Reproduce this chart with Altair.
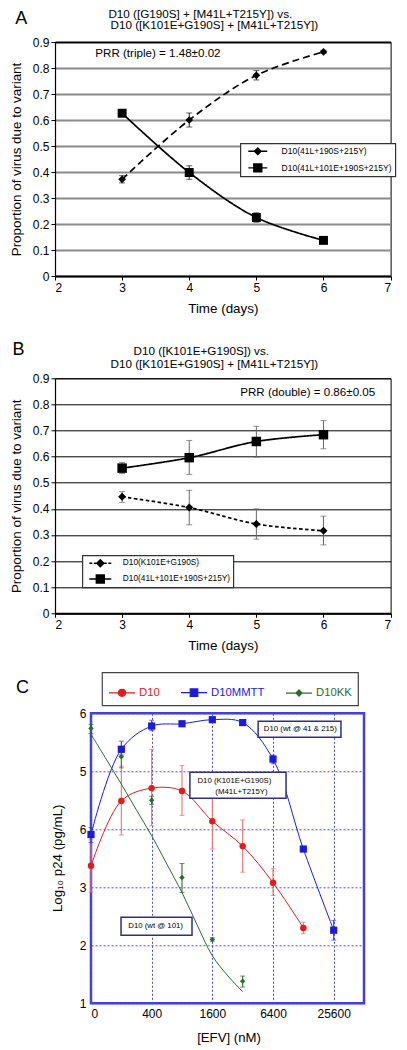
import json
import altair as alt
import pandas as pd

FONT = "Liberation Sans"

# ================= Panel A data =================
a_days = [3, 4, 5, 6]
a_series = ["D10(41L+190S+215Y)", "D10(41L+101E+190S+215Y)"]
a_diamond = [0.372, 0.600, 0.772, 0.862]
a_diamond_err = [0.014, 0.027, 0.018, 0.006]
a_square = [0.626, 0.398, 0.225, 0.137]
a_square_err = [0.012, 0.026, 0.018, 0.006]
a_heading = ["D10 ([G190S] + [M41L+T215Y]) vs.", "D10 ([K101E+G190S] + [M41L+T215Y])"]
a_note = "PRR (triple) = 1.48±0.02"

# ================= Panel B data =================
b_days = [3, 4, 5, 6]
b_series = ["D10(K101E+G190S)", "D10(41L+101E+190S+215Y)"]
b_diamond = [0.446, 0.405, 0.342, 0.316]
b_diamond_lo = [0.425, 0.339, 0.284, 0.262]
b_diamond_hi = [0.466, 0.471, 0.400, 0.372]
b_square = [0.556, 0.596, 0.658, 0.684]
b_square_lo = [0.535, 0.532, 0.598, 0.630]
b_square_hi = [0.578, 0.662, 0.716, 0.738]
b_heading = ["D10 ([K101E+G190S]) vs.", "D10 ([K101E+G190S] + [M41L+T215Y])"]
b_note = "PRR (double) = 0.86±0.05"

time_ticks = [2, 3, 4, 5, 6, 7]
prop_ticks = [0, 0.1, 0.2, 0.3, 0.4, 0.5, 0.6, 0.7, 0.8, 0.9]

# ================= Panel C data =================
c_series = ["D10", "D10MMTT", "D10KK"]
c_efv_labels = ["0", "200", "400", "800", "1600", "3200", "6400", "12800", "25600"]
c_d10 = [3.37, 4.49, 4.71, 4.66, 4.14, 3.71, 3.08, 2.30]
c_d10_lo = [2.92, 3.90, 4.06, 4.24, 3.66, 3.26, 2.86, 2.20]
c_d10_hi = [3.82, 5.09, 5.38, 5.10, 4.62, 4.16, 3.32, 2.40]
c_mmtt = [3.91, 5.38, 5.78, 5.82, 5.89, 5.84, 5.21, 3.66, 2.26]
c_mmtt_lo = [3.77, 5.28, 5.70, 5.79, 5.86, 5.81, 5.13, 3.62, 2.09]
c_mmtt_hi = [4.03, 5.52, 5.88, 5.85, 5.92, 5.87, 5.28, 3.70, 2.43]
c_kk = [5.74, 5.25, 4.50, 3.17, 2.10, 1.38]
c_kk_lo = [5.65, 5.06, 4.43, 2.91, 2.07, 1.28]
c_kk_hi = [5.81, 5.33, 4.57, 3.41, 2.13, 1.47]
c_kk_fit_pos = [0, 0.5, 1, 1.5, 2, 2.5, 3, 3.5, 4, 4.5, 5]
c_kk_fit = [5.64, 5.21, 4.78, 4.33, 3.89, 3.40, 2.91, 2.35, 1.82, 1.48, 1.20]
c_x_ticks = [0, 2, 4, 6, 8]
c_y_ticks = [1, 2, 3, 4, 5, 6]
c_y_tick_labels = ["1", "2", "3", "6", "5", "6"]
c_x_title = "[EFV] (nM)"
c_y_title = "Log₁₀ p24 (pg/mL)"
c_notes = ["D10 (wt @ 41 & 215)", "D10 (K101E+G190S)", "(M41L+T215Y)", "D10 (wt @ 101)"]

# ================= styles / annotation placement =================
c_colors = ["#e41a1c", "#1c1cd6", "#2e6b2e"]
c_err_colors = ["#ec7373", "#3434dc", "#2e6b2e"]
c_shapes = ["circle", "square", "diamond"]
c_sizes = [42, 52, 30]


def table(series, xs, vals, los, his):
    return pd.DataFrame({"series": series, "x": xs, "value": vals, "lo": los, "hi": his})


a_df = pd.concat([
    table(a_series[0], a_days, a_diamond,
          [v - e for v, e in zip(a_diamond, a_diamond_err)],
          [v + e for v, e in zip(a_diamond, a_diamond_err)]),
    table(a_series[1], a_days, a_square,
          [v - e for v, e in zip(a_square, a_square_err)],
          [v + e for v, e in zip(a_square, a_square_err)]),
], ignore_index=True)

b_df = pd.concat([
    table(b_series[0], b_days, b_diamond, b_diamond_lo, b_diamond_hi),
    table(b_series[1], b_days, b_square, b_square_lo, b_square_hi),
], ignore_index=True)


def text_at(txt, px, py, size, align="center", baseline="alphabetic", color="black", angle=0):
    return alt.Chart(pd.DataFrame({"t": [txt]})).mark_text(
        align=align, baseline=baseline, font=FONT, fontSize=size, color=color, angle=angle
    ).encode(text="t:N", x=alt.value(px), y=alt.value(py))


def time_panel(df, series, dashes, shapes, sizes, err_color, grid_color, grid_width,
               heading, heading_pos, note, note_at, letter, letter_pos,
               legend_paths, legend_xy, legend_font, legend_pad, legend_rowpad,
               legend_symoff, legend_laboff, height):
    W = 335.6
    xs = alt.Scale(domain=[2, 7], nice=False, zero=False)
    ys = alt.Scale(domain=[0, 0.9], nice=False, zero=False)
    xa = alt.Axis(values=time_ticks, format="d", title="Time (days)", grid=False,
                  domainColor="black", domainWidth=2, tickColor="black", tickSize=4,
                  labelPadding=2, labelFontSize=12, titleFontSize=13.4,
                  titleX=W / 2, titleY=32, titleBaseline="middle", titleAlign="center")
    ya = alt.Axis(values=prop_ticks, format=".1~f", title="Proportion of virus due to variant",
                  grid=True, gridColor={"condition": {"test": "datum.value >= 0.85", "value": "black"},
                                        "value": grid_color},
                  gridWidth=grid_width, domainColor="black", domainWidth=1.2,
                  tickColor="black", tickSize=4, labelPadding=2, labelFontSize=12,
                  titleFontSize=13.4, titleX=-38.5, titleY=height / 2, titleAngle=270,
                  titleBaseline="middle", titleAlign="center")

    def X(f):
        return alt.X(f"{f}:Q", scale=xs, axis=xa)

    def Y(f):
        return alt.Y(f"{f}:Q", scale=ys, axis=ya)

    base = alt.Chart(df)
    rule = base.mark_rule(color=err_color, strokeWidth=1).encode(x=X("x"), y=Y("lo"), y2="hi:Q")
    caps = base.transform_fold(["lo", "hi"], as_=["end", "endv"]).mark_tick(
        orient="horizontal", color=err_color, size=6, thickness=1
    ).encode(x=X("x"), y=Y("endv"))
    lines = [
        base.transform_filter(alt.datum.series == s).mark_line(
            interpolate="catmull-rom", color="black", strokeWidth=1.7, strokeDash=d
        ).encode(x=X("x"), y=Y("value"))
        for s, d in zip(series, dashes)
    ]
    pts = [
        base.transform_filter(alt.datum.series == s).mark_point(
            filled=True, shape=sh, size=sz, color="black", opacity=1
        ).encode(x=X("x"), y=Y("value"))
        for s, sh, sz in zip(series, shapes, sizes)
    ]
    note_layer = alt.Chart(pd.DataFrame({"x": [note_at[0]], "value": [note_at[1]], "t": [note]})).mark_text(
        align="left", baseline="middle", font=FONT, fontSize=11.6, color="black"
    ).encode(x=X("x"), y=Y("value"), text="t:N")
    lg = alt.Legend(title=None, orient="none", legendX=legend_xy[0], legendY=legend_xy[1],
                    direction="vertical", fillColor="white", strokeColor="#333333",
                    padding=legend_pad, rowPadding=legend_rowpad, clipHeight=10,
                    labelFont=FONT, labelFontSize=legend_font, labelColor="black",
                    labelLimit=400, labelOffset=legend_laboff, symbolOffset=legend_symoff,
                    symbolSize=81, symbolStrokeWidth=1.4)
    leg = alt.Chart(df).transform_filter("false").mark_point(
        filled=True, size=81, strokeWidth=1.4, opacity=1
    ).encode(
        fill=alt.Fill("series:N", scale=alt.Scale(domain=series, range=["black", "black"]), legend=lg),
        stroke=alt.Stroke("series:N", scale=alt.Scale(domain=series, range=["black", "black"]), legend=lg),
        shape=alt.Shape("series:N", scale=alt.Scale(domain=series, range=legend_paths), legend=lg),
    )
    heads = [text_at(heading[0], heading_pos[0][0], heading_pos[0][1], 11.7),
             text_at(heading[1], heading_pos[1][0], heading_pos[1][1], 11.7),
             text_at(letter, letter_pos[0], letter_pos[1], 18)]
    return alt.layer(rule, caps, *lines, *pts, note_layer, leg, *heads).properties(
        width=W, height=height, view=alt.ViewBackground(stroke="black", strokeWidth=1)
    )


a_paths = ["M-2.11,0H2.11M0,-0.73L0.73,0L0,0.73L-0.73,0Z",
           "M-2.11,0H2.11M-0.89,-0.89H0.89V0.89H-0.89Z"]
b_paths = ["M-2.44,0H-1.78M-1.44,0H-0.89M0.89,0H1.44M1.78,0H2.44M0,-0.78L0.78,0L0,0.78L-0.78,0Z",
           "M-2.44,0H2.44M-0.89,-0.89H0.89V0.89H-0.89Z"]

panel_a = time_panel(a_df, a_series, [[7, 4], [1, 0]], ["diamond", "square"], [60, 80],
                     "#222222", "#8a8a8a", 2,
                     a_heading, [(145.3, -24.4), (159.3, -12.7)], a_note, (2.60, 0.853),
                     "A", (-33.7, -17.7), a_paths, (185.3, 101.3), 8.5, 3, 6.6, 9, 18.3, 234)
panel_b = time_panel(b_df, b_series, [[3.5, 2.5], [1, 0]], ["diamond", "square"], [64, 90],
                     "#666666", "black", 1,
                     b_heading, [(146.3, -23), (159.3, -10)], b_note, (4.76, 0.843),
                     "B", (-36.4, -23), b_paths, (27.3, 177), 8.3, 3, 5.7, 9.5, 17, 235)

# ================= Panel C =================
CW, CH = 273, 290
cxs = alt.Scale(domain=[0, 9], nice=False, zero=False)
cys = alt.Scale(domain=[1, 6], nice=False, zero=False)
grid_blue = "#4a4ade"
cxa = alt.Axis(values=c_x_ticks, labelExpr=f"{json.dumps(c_efv_labels)}[datum.value]",
               domain=False, ticks=False, grid=True, gridColor=grid_blue, gridDash=[2, 2], gridWidth=1,
               labelPadding=5, labelFontSize=12, title=None)
cya = alt.Axis(values=c_y_ticks, labelExpr=f"{json.dumps(c_y_tick_labels)}[datum.value - 1]",
               domain=False, ticks=False, grid=True, gridColor=grid_blue, gridDash=[2, 2], gridWidth=1,
               labelPadding=5, labelFontSize=12, title=None)


def CX(f):
    return alt.X(f"{f}:Q", scale=cxs, axis=cxa)


def CY(f):
    return alt.Y(f"{f}:Q", scale=cys, axis=cya)


c_point_df = pd.concat([
    table(c_series[0], list(range(len(c_d10))), c_d10, c_d10_lo, c_d10_hi),
    table(c_series[1], list(range(len(c_mmtt))), c_mmtt, c_mmtt_lo, c_mmtt_hi),
    table(c_series[2], list(range(len(c_kk))), c_kk, c_kk_lo, c_kk_hi),
], ignore_index=True)
c_line_df = pd.concat([
    pd.DataFrame({"series": c_series[0], "x": list(range(len(c_d10))), "value": c_d10}),
    pd.DataFrame({"series": c_series[1], "x": list(range(len(c_mmtt))), "value": c_mmtt}),
    pd.DataFrame({"series": c_series[2], "x": c_kk_fit_pos, "value": c_kk_fit}),
], ignore_index=True)

c_layers = []
for s, col, ecol, sh, sz in zip(c_series, c_colors, c_err_colors, c_shapes, c_sizes):
    pb = alt.Chart(c_point_df).transform_filter(alt.datum.series == s)
    c_layers.append(alt.Chart(c_line_df).transform_filter(alt.datum.series == s).mark_line(
        interpolate="catmull-rom", color=col, strokeWidth=1).encode(x=CX("x"), y=CY("value")))
    c_layers.append(pb.mark_rule(color=ecol, strokeWidth=1.1).encode(x=CX("x"), y=CY("lo"), y2="hi:Q"))
    c_layers.append(pb.transform_fold(["lo", "hi"], as_=["end", "endv"]).mark_tick(
        orient="horizontal", color=ecol, size=5, thickness=1).encode(x=CX("x"), y=CY("endv")))
for s, col, sh, sz in zip(c_series, c_colors, c_shapes, c_sizes):
    c_layers.append(alt.Chart(c_point_df).transform_filter(alt.datum.series == s).mark_point(
        filled=True, shape=sh, size=sz, color=col, opacity=1).encode(x=CX("x"), y=CY("value")))

c_box_df = pd.DataFrame({"x1": [5.51, 3.26, 0.99], "x2": [8.24, 6.43, 3.33],
                         "y1": [5.586, 4.534, 2.172], "y2": [5.862, 4.983, 2.483]})
c_layers.append(alt.Chart(c_box_df).mark_rect(fill="white", stroke="#2f2f80", strokeWidth=1.5).encode(
    x=CX("x1"), x2="x2:Q", y=CY("y1"), y2="y2:Q"))
c_note_df = pd.DataFrame({"x": [6.90, 3.51, 4.10, 2.13], "value": [5.724, 4.833, 4.643, 2.328],
                          "t": c_notes, "al": ["c", "l", "l", "c"]})
c_layers.append(alt.Chart(c_note_df).transform_filter("datum.al == 'c'").mark_text(
    align="center", baseline="middle", font=FONT, fontSize=7.8, color="black").encode(
    x=CX("x"), y=CY("value"), text="t:N"))
c_layers.append(alt.Chart(c_note_df).transform_filter("datum.al == 'l'").mark_text(
    align="left", baseline="middle", font=FONT, fontSize=7.8, color="black").encode(
    x=CX("x"), y=CY("value"), text="t:N"))

c_paths = ["M-1,0H1M0.27,0A0.27,0.27,0,1,1,-0.27,0A0.27,0.27,0,1,1,0.27,0Z",
           "M-1,0H1M-0.29,-0.29H0.29V0.29H-0.29Z",
           "M-1,0H1M0,-0.24L0.24,0L0,0.24L-0.24,0Z"]
label_color_expr = ("datum.value == 'D10' ? '%s' : datum.value == 'D10MMTT' ? '%s' : '%s'"
                    % tuple(c_colors))
c_legend = alt.Legend(title=None, orient="none", legendX=11, legendY=-41, direction="horizontal",
                      columns=3, columnPadding=18, padding=6, fillColor="white", strokeColor="#444444",
                      labelFont=FONT, labelFontSize=11.3, labelColor=alt.ExprRef(expr=label_color_expr),
                      labelOffset=3, symbolSize=676, symbolStrokeWidth=1.2)
c_layers.append(alt.Chart(c_point_df).transform_filter("false").mark_point(
    filled=True, size=676, strokeWidth=1.2, opacity=1).encode(
    fill=alt.Fill("series:N", scale=alt.Scale(domain=c_series, range=c_colors), legend=c_legend),
    stroke=alt.Stroke("series:N", scale=alt.Scale(domain=c_series, range=c_colors), legend=c_legend),
    shape=alt.Shape("series:N", scale=alt.Scale(domain=c_series, range=c_paths), legend=c_legend),
))
c_layers.append(text_at("C", -68.5, -20, 18))
c_layers.append(text_at(c_x_title, CW / 2 + 1.5, CH + 35, 13.2, baseline="middle"))
c_layers.append(text_at(c_y_title, -33, CH / 2, 13.3, baseline="middle", angle=270))

panel_c = alt.layer(*c_layers).properties(
    width=CW, height=CH, view=alt.ViewBackground(stroke="#4040d4", strokeWidth=2.5))

IND = dict(shape="independent", fill="independent", stroke="independent")

spacer = alt.Chart(pd.DataFrame({"t": [""]})).mark_text().encode(text="t:N").properties(width=35.3, height=1)
c_row = alt.hconcat(spacer, panel_c, spacing=0, bounds="flush").resolve_scale(**IND).resolve_legend(**IND)

inner = alt.vconcat(panel_b, c_row, spacing=100, bounds="flush").resolve_scale(**IND).resolve_legend(**IND)
chart = alt.vconcat(panel_a, inner, spacing=102.3, bounds="flush").resolve_scale(**IND).resolve_legend(
    **IND
).properties(padding=0).configure_view(
    stroke="transparent"
).configure_axis(
    labelFont=FONT, titleFont=FONT, labelColor="black", titleColor="black", titleFontWeight="normal"
).configure_legend(strokeWidth=1.2)

chart.save("out.html", embed_options={"renderer": "svg", "actions": False})
